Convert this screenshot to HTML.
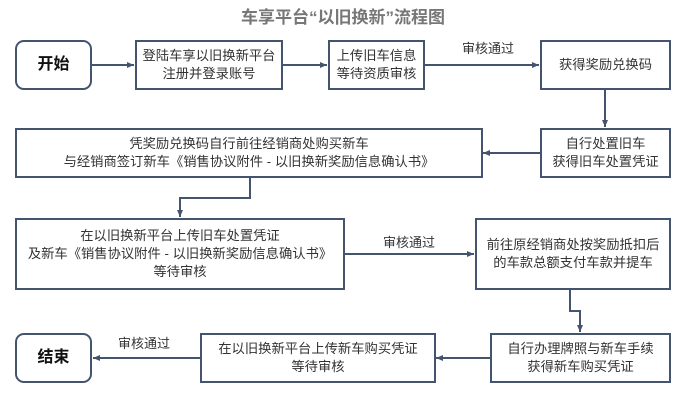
<!DOCTYPE html>
<html><head><meta charset="utf-8"><style>
body{margin:0;width:686px;height:411px;background:#fff;overflow:hidden;position:relative;font-family:"Liberation Sans","Noto Sans CJK SC",sans-serif;}
.b{position:absolute;border:2px solid #44546e;box-sizing:border-box;display:flex;align-items:center;justify-content:center;text-align:center;font-size:13.3px;line-height:18px;color:#333;background:#fff;white-space:nowrap;}
.r{border-radius:9px;font-weight:bold;font-size:16px;color:#111;}
.t{position:absolute;font-size:13px;color:#333;}
svg{position:absolute;left:0;top:0;}
</style></head><body>
<div style="position:absolute;left:0;width:686px;top:3px;text-align:center;font-size:17px;font-weight:bold;color:#777;">车享平台“以旧换新”流程图</div>
<svg width="686" height="411">
<defs><marker id="a" markerWidth="8" markerHeight="8" refX="7" refY="4" orient="auto" markerUnits="userSpaceOnUse"><path d="M0,1 L7,4 L0,7z" fill="#44546e"/></marker></defs>
<g stroke="#44546e" stroke-width="2" fill="none">
<line x1="92" y1="65" x2="134" y2="65" marker-end="url(#a)"/>
<line x1="283" y1="65" x2="327" y2="65" marker-end="url(#a)"/>
<line x1="425" y1="65" x2="539" y2="65" marker-end="url(#a)"/>
<line x1="605" y1="90" x2="605" y2="127" marker-end="url(#a)"/>
<line x1="540" y1="153" x2="483" y2="153" marker-end="url(#a)"/>
<polyline points="250,178 250,198 180,198 180,217" marker-end="url(#a)"/>
<line x1="345" y1="254" x2="474" y2="254" marker-end="url(#a)"/>
<polyline points="570,290 570,311 580,311 580,332" marker-end="url(#a)"/>
<line x1="490" y1="358" x2="436" y2="358" marker-end="url(#a)"/>
<line x1="200" y1="358" x2="93" y2="358" marker-end="url(#a)"/>
</g></svg>
<div class="b r" style="left:15px;top:40px;width:77px;height:50px;">开始</div>
<div class="b" style="left:135px;top:40px;width:148px;height:50px;">登陆车享以旧换新平台<br>注册并登录账号</div>
<div class="b" style="left:328px;top:40px;width:97px;height:50px;">上传旧车信息<br>等待资质审核</div>
<div class="b" style="left:540px;top:40px;width:131px;height:50px;">获得奖励兑换码</div>
<div class="t" style="left:462px;top:38px;">审核通过</div>
<div class="b" style="left:15px;top:128px;width:468px;height:50px;">凭奖励兑换码自行前往经销商处购买新车<br>与经销商签订新车《销售协议附件 - 以旧换新奖励信息确认书》</div>
<div class="b" style="left:540px;top:128px;width:131px;height:50px;">自行处置旧车<br>获得旧车处置凭证</div>
<div class="b" style="left:15px;top:218px;width:330px;height:72px;">在以旧换新平台上传旧车处置凭证<br>及新车《销售协议附件 - 以旧换新奖励信息确认书》<br>等待审核</div>
<div class="t" style="left:383px;top:232px;">审核通过</div>
<div class="b" style="left:475px;top:218px;width:196px;height:72px;">前往原经销商处按奖励抵扣后<br>的车款总额支付车款并提车</div>
<div class="b r" style="left:15px;top:333px;width:77px;height:50px;">结束</div>
<div class="t" style="left:118px;top:333px;">审核通过</div>
<div class="b" style="left:200px;top:333px;width:236px;height:50px;">在以旧换新平台上传新车购买凭证<br>等待审核</div>
<div class="b" style="left:490px;top:333px;width:181px;height:50px;">自行办理牌照与新车手续<br>获得新车购买凭证</div>
</body></html>
